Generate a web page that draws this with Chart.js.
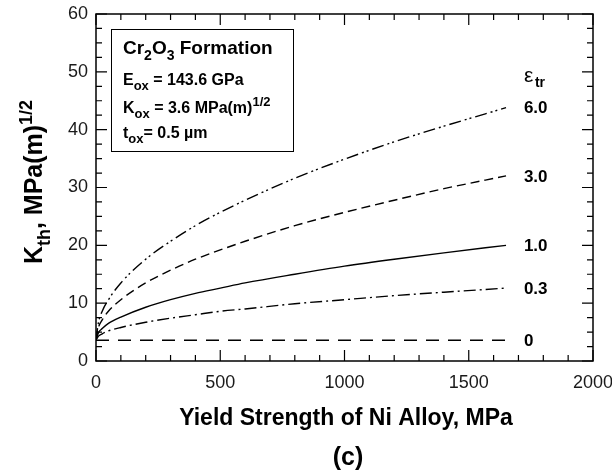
<!DOCTYPE html>
<html>
<head>
<meta charset="utf-8">
<script src="https://cdn.jsdelivr.net/npm/chart.js@4.4.1/dist/chart.umd.min.js"></script>
<style>
  body { margin: 0; background: #fff; }
  #wrap { width: 612px; height: 475px; }
</style>
</head>
<body>
<div id="wrap"><canvas id="myChart" width="612" height="475"></canvas></div>
<script>
// yield strength, MPa
const strength = [0, 10, 25, 50, 100, 200, 300, 400, 500, 600, 800, 1000, 1200, 1400, 1650];
// K_th, one list per eps_tr
const kEps0  = [3.6, 3.6, 3.6, 3.6, 3.6, 3.6, 3.6, 3.6, 3.6, 3.6, 3.6, 3.6, 3.6, 3.6, 3.6];
const kEps03 = [3.6, 4.3, 4.7, 5.2, 5.8, 6.7, 7.4, 8.0, 8.6, 9.0, 9.9, 10.6, 11.3, 11.9, 12.6];
const kEps1  = [3.6, 4.9, 5.6, 6.5, 7.6, 9.3, 10.6, 11.7, 12.6, 13.5, 15.0, 16.4, 17.6, 18.7, 20.0];
const kEps3  = [3.6, 5.8, 7.1, 8.6, 10.6, 13.5, 15.7, 17.6, 19.2, 20.7, 23.4, 25.7, 27.8, 29.8, 32.0];
const kEps6  = [3.6, 6.7, 8.6, 10.6, 13.5, 17.6, 20.7, 23.4, 25.7, 27.8, 31.6, 34.9, 37.9, 40.6, 43.8];
const epsLabels = ['0', '0.3', '1.0', '3.0', '6.0'];
const series = [kEps0, kEps03, kEps1, kEps3, kEps6];
const dashes = [[13, 9], [12, 4, 2, 4], [], [9, 5], [12, 4, 2, 3, 2, 4]];

const FONT = '"Liberation Sans", Arial, Helvetica, sans-serif';

// draw text made of pieces, some sub- or superscript
const richText = (ctx, x, y, parts, size, subScale) => {
    const k = subScale || 0.72;
    let cx = x;
    parts.forEach(p => {
        const s = p.sub || p.sup ? Math.round(size * k) : size;
        const dy = p.sub ? size * 0.3 : (p.sup ? -size * 0.42 : 0);
        ctx.font = 'bold ' + s + 'px ' + FONT;
        ctx.fillText(p.t, cx, y + dy);
        cx += ctx.measureText(p.t).width;
    });
    return cx - x;
};
const richWidth = (ctx, parts, size, subScale) => {
    const k = subScale || 0.72;
    let w = 0;
    parts.forEach(p => {
        const s = p.sub || p.sup ? Math.round(size * k) : size;
        ctx.font = 'bold ' + s + 'px ' + FONT;
        w += ctx.measureText(p.t).width;
    });
    return w;
};

const decorations = {
    id: 'decorations',
    afterDraw(chart) {
        const ctx = chart.ctx;
        const a = chart.chartArea;
        const xs = chart.scales.x, ys = chart.scales.y;
        ctx.save();
        ctx.strokeStyle = '#000';
        ctx.fillStyle = '#000';
        ctx.lineWidth = 1.5;
        ctx.strokeRect(a.left, a.top, a.right - a.left, a.bottom - a.top);

        // inward ticks on all four sides
        ctx.lineWidth = 1.2;
        ctx.beginPath();
        for (let v = 0; v <= 2000; v += 100) {
            const px = xs.getPixelForValue(v);
            const len = v % 500 === 0 ? 11 : 6;
            ctx.moveTo(px, a.bottom); ctx.lineTo(px, a.bottom - len);
            ctx.moveTo(px, a.top); ctx.lineTo(px, a.top + len);
        }
        for (let v = 0; v <= 60; v += 2.5) {
            const py = ys.getPixelForValue(v);
            const len = v % 10 === 0 ? 11 : 6;
            ctx.moveTo(a.left, py); ctx.lineTo(a.left + len, py);
            ctx.moveTo(a.right, py); ctx.lineTo(a.right - len, py);
        }
        ctx.stroke();

        // curve labels at the right end
        ctx.textBaseline = 'middle';
        ctx.textAlign = 'left';
        const lx = xs.getPixelForValue(1722);
        series.forEach((s, i) => {
            ctx.font = 'bold 17px ' + FONT;
            ctx.fillText(epsLabels[i], lx, ys.getPixelForValue(s[s.length - 1]) + 1);
        });
        ctx.font = '21px ' + FONT;
        ctx.fillText('\u03b5', lx, 76);
        ctx.font = 'bold 14px ' + FONT;
        ctx.fillText('tr', lx + 11, 83);

        // inset box
        ctx.lineWidth = 1;
        ctx.strokeRect(111.5, 29.5, 182, 122);
        ctx.textBaseline = 'alphabetic';
        richText(ctx, 123, 54, [{t: 'Cr'}, {t: '2', sub: true}, {t: 'O'}, {t: '3', sub: true}, {t: ' Formation'}], 19, 0.72);
        richText(ctx, 123, 85, [{t: 'E'}, {t: 'ox', sub: true}, {t: ' = 143.6 GPa'}], 16, 0.8);
        richText(ctx, 123, 113, [{t: 'K'}, {t: 'ox', sub: true}, {t: ' = 3.6 MPa(m)'}, {t: '1/2', sup: true}], 16, 0.8);
        const tw = richText(ctx, 123, 138, [{t: 't'}, {t: 'ox', sub: true}, {t: '= 0.5 '}], 16, 0.8);
        ctx.font = 'bold 16px ' + FONT;
        ctx.fillText('\u00b5m', 123 + tw, 138);

        // y axis title
        const yParts = [{t: 'K'}, {t: 'th', sub: true}, {t: ', MPa(m)'}, {t: '1/2', sup: true}];
        ctx.save();
        ctx.translate(42, 182);
        ctx.rotate(-Math.PI / 2);
        const yw = richWidth(ctx, yParts, 25);
        richText(ctx, -yw / 2, 0, yParts, 25);
        ctx.restore();

        // x axis title and panel tag
        ctx.textAlign = 'center';
        ctx.font = 'bold 23px ' + FONT;
        ctx.fillText('Yield Strength of Ni Alloy, MPa', 346, 425);
        ctx.font = 'bold 25px ' + FONT;
        ctx.fillText('(c)', 348, 465);
        ctx.restore();
    }
};

document.addEventListener('DOMContentLoaded', function() {
    const ctx = document.getElementById('myChart').getContext('2d');
    new Chart(ctx, {
        type: 'line',
        data: {
            datasets: series.map((s, i) => ({
                label: epsLabels[i],
                data: strength.map((x, j) => ({x: x, y: s[j]})),
                borderColor: '#000',
                borderWidth: 1.4,
                borderDash: dashes[i],
                pointRadius: 0,
                fill: false,
                cubicInterpolationMode: 'monotone'
            }))
        },
        options: {
            responsive: false,
            animation: false,
            layout: { padding: { top: 14, right: 19, left: 0, bottom: 0 } },
            plugins: { legend: { display: false }, tooltip: { enabled: false } },
            scales: {
                x: {
                    type: 'linear', min: 0, max: 2000,
                    grid: { display: false, drawTicks: false },
                    border: { display: false },
                    ticks: { stepSize: 500, color: '#1a1a1a', padding: 11, maxRotation: 0,
                             callback: (v) => String(v),
                             font: { family: FONT, size: 18 } },
                    afterFit: (scale) => {
                        scale.height = 114;
                        scale.paddingLeft = 0;
                        scale.paddingRight = 0;
                    }
                },
                y: {
                    min: 0, max: 60,
                    grid: { display: false, drawTicks: false },
                    border: { display: false },
                    ticks: { stepSize: 10, color: '#1a1a1a', padding: 8,
                             font: { family: FONT, size: 18 } },
                    afterFit: (scale) => {
                        scale.width = 96;
                        scale.paddingTop = 0;
                        scale.paddingBottom = 0;
                    }
                }
            }
        },
        plugins: [decorations]
    });
});
</script>
</body>
</html>
